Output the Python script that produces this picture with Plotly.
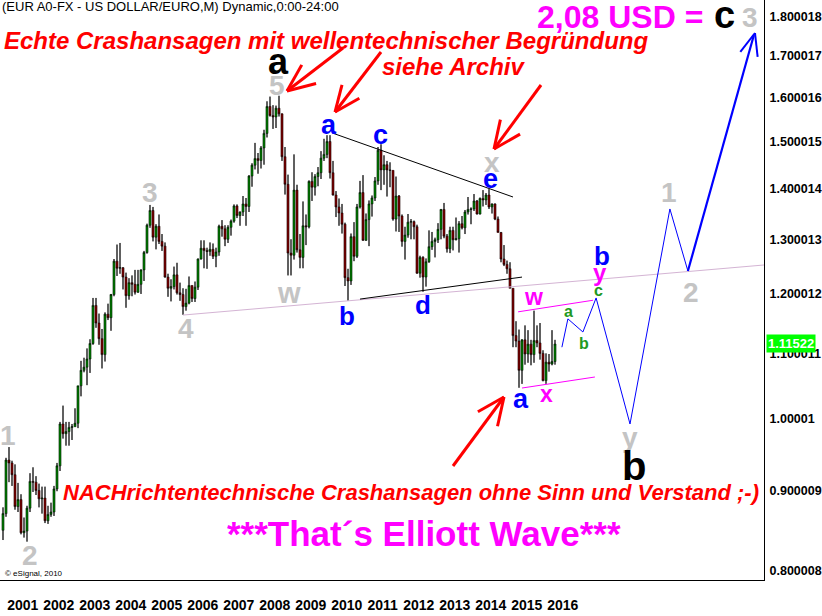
import math
import plotly.graph_objects as go

# ---------------- data (EUR/USD monthly) ----------------
months = ["2000-11", "2000-12",
          "2001-01", "2001-02", "2001-03", "2001-04", "2001-05", "2001-06", "2001-07", "2001-08", "2001-09", "2001-10", "2001-11", "2001-12",
          "2002-01", "2002-02", "2002-03", "2002-04", "2002-05", "2002-06", "2002-07", "2002-08", "2002-09", "2002-10", "2002-11", "2002-12",
          "2003-01", "2003-02", "2003-03", "2003-04", "2003-05", "2003-06", "2003-07", "2003-08", "2003-09", "2003-10", "2003-11", "2003-12",
          "2004-01", "2004-02", "2004-03", "2004-04", "2004-05", "2004-06", "2004-07", "2004-08", "2004-09", "2004-10", "2004-11", "2004-12",
          "2005-01", "2005-02", "2005-03", "2005-04", "2005-05", "2005-06", "2005-07", "2005-08", "2005-09", "2005-10", "2005-11", "2005-12",
          "2006-01", "2006-02", "2006-03", "2006-04", "2006-05", "2006-06", "2006-07", "2006-08", "2006-09", "2006-10", "2006-11", "2006-12",
          "2007-01", "2007-02", "2007-03", "2007-04", "2007-05", "2007-06", "2007-07", "2007-08", "2007-09", "2007-10", "2007-11", "2007-12",
          "2008-01", "2008-02", "2008-03", "2008-04", "2008-05", "2008-06", "2008-07", "2008-08", "2008-09", "2008-10", "2008-11", "2008-12",
          "2009-01", "2009-02", "2009-03", "2009-04", "2009-05", "2009-06", "2009-07", "2009-08", "2009-09", "2009-10", "2009-11", "2009-12",
          "2010-01", "2010-02", "2010-03", "2010-04", "2010-05", "2010-06", "2010-07", "2010-08", "2010-09", "2010-10", "2010-11", "2010-12",
          "2011-01", "2011-02", "2011-03", "2011-04", "2011-05", "2011-06", "2011-07", "2011-08", "2011-09", "2011-10", "2011-11", "2011-12",
          "2012-01", "2012-02", "2012-03", "2012-04", "2012-05", "2012-06", "2012-07", "2012-08", "2012-09", "2012-10", "2012-11", "2012-12",
          "2013-01", "2013-02", "2013-03", "2013-04", "2013-05", "2013-06", "2013-07", "2013-08", "2013-09", "2013-10", "2013-11", "2013-12",
          "2014-01", "2014-02", "2014-03", "2014-04", "2014-05", "2014-06", "2014-07", "2014-08", "2014-09", "2014-10", "2014-11", "2014-12",
          "2015-01", "2015-02", "2015-03", "2015-04", "2015-05", "2015-06", "2015-07", "2015-08", "2015-09", "2015-10", "2015-11", "2015-12",
          "2016-01", "2016-02", "2016-03"]

opens = [0.8490, 0.8700,
         0.9410, 0.9370, 0.9210, 0.8790, 0.8880, 0.8460, 0.8480, 0.8770, 0.9120, 0.9110, 0.9000, 0.8890,
         0.8900, 0.8610, 0.8690, 0.8720, 0.9020, 0.9330, 0.9920, 0.9780, 0.9810, 0.9870, 0.9880, 0.9930,
         1.0490, 1.0730, 1.0780, 1.0910, 1.1160, 1.1800, 1.1500, 1.1240, 1.0980, 1.1650, 1.1590, 1.1990,
         1.2590, 1.2460, 1.2470, 1.2300, 1.1970, 1.2200, 1.2170, 1.2030, 1.2170, 1.2430, 1.2750, 1.3270,
         1.3560, 1.3040, 1.3250, 1.2960, 1.2870, 1.2300, 1.2100, 1.2130, 1.2340, 1.2020, 1.1990, 1.1780,
         1.1840, 1.2150, 1.1920, 1.2120, 1.2630, 1.2830, 1.2790, 1.2770, 1.2810, 1.2680, 1.2760, 1.3250,
         1.3200, 1.3000, 1.3230, 1.3350, 1.3650, 1.3460, 1.3530, 1.3690, 1.3640, 1.4260, 1.4490, 1.4630,
         1.4590, 1.4860, 1.5180, 1.5790, 1.5580, 1.5550, 1.5750, 1.5620, 1.4670, 1.4090, 1.2740, 1.2700,
         1.3970, 1.2800, 1.2660, 1.3260, 1.3240, 1.4150, 1.4030, 1.4250, 1.4330, 1.4640, 1.4720, 1.5000,
         1.4330, 1.3870, 1.3630, 1.3510, 1.3290, 1.2290, 1.2230, 1.3050, 1.2680, 1.3630, 1.3920, 1.2980,
         1.3380, 1.3690, 1.3810, 1.4160, 1.4810, 1.4390, 1.4500, 1.4390, 1.4380, 1.3390, 1.3850, 1.3450,
         1.2960, 1.3080, 1.3330, 1.3340, 1.3240, 1.2370, 1.2660, 1.2300, 1.2580, 1.2860, 1.2960, 1.2990,
         1.3190, 1.3580, 1.3060, 1.2820, 1.3170, 1.2990, 1.3010, 1.3300, 1.3220, 1.3530, 1.3580, 1.3590,
         1.3750, 1.3490, 1.3800, 1.3770, 1.3870, 1.3630, 1.3690, 1.3390, 1.3130, 1.2630, 1.2530, 1.2450,
         1.2100, 1.1290, 1.1200, 1.0730, 1.1220, 1.0990, 1.1150, 1.0980, 1.1210, 1.1170, 1.1000, 1.0570,
         1.0860, 1.0830, 1.0870]

highs = [0.8780, 0.9440,
         0.9590, 0.9400, 0.9350, 0.9100, 0.8950, 0.8650, 0.8800, 0.9230, 0.9310, 0.9190, 0.9090, 0.9050,
         0.9050, 0.8800, 0.8840, 0.9060, 0.9370, 0.9950, 1.0190, 0.9950, 0.9950, 0.9920, 1.0150, 1.0490,
         1.0880, 1.0930, 1.1080, 1.1230, 1.1930, 1.1930, 1.1660, 1.1400, 1.1680, 1.1830, 1.2000, 1.2630,
         1.2900, 1.2930, 1.2480, 1.2380, 1.2280, 1.2330, 1.2430, 1.2430, 1.2440, 1.2780, 1.3300, 1.3670,
         1.3630, 1.3290, 1.3480, 1.3100, 1.2940, 1.2360, 1.2260, 1.2490, 1.2560, 1.2200, 1.2100, 1.2090,
         1.2310, 1.2150, 1.2220, 1.2640, 1.2980, 1.2980, 1.2840, 1.2940, 1.2920, 1.2840, 1.3280, 1.3370,
         1.3270, 1.3270, 1.3380, 1.3680, 1.3680, 1.3540, 1.3850, 1.3810, 1.4280, 1.4530, 1.4970, 1.4750,
         1.4900, 1.5260, 1.5910, 1.6020, 1.5820, 1.5810, 1.6040, 1.5630, 1.4880, 1.4290, 1.3000, 1.4720,
         1.4080, 1.3100, 1.3740, 1.3480, 1.4170, 1.4340, 1.4300, 1.4450, 1.4790, 1.5060, 1.5140, 1.5140,
         1.4580, 1.3950, 1.3800, 1.3690, 1.3320, 1.2450, 1.3110, 1.3330, 1.3690, 1.4160, 1.4280, 1.3500,
         1.3760, 1.3860, 1.4240, 1.4880, 1.4940, 1.4700, 1.4580, 1.4550, 1.4380, 1.4250, 1.3870, 1.3480,
         1.3240, 1.3490, 1.3390, 1.3360, 1.3280, 1.2690, 1.2680, 1.2640, 1.3170, 1.3140, 1.3030, 1.3310,
         1.3590, 1.3710, 1.3100, 1.3240, 1.3240, 1.3420, 1.3350, 1.3450, 1.3570, 1.3830, 1.3620, 1.3890,
         1.3770, 1.3820, 1.3970, 1.3910, 1.3990, 1.3700, 1.3700, 1.3440, 1.3140, 1.2890, 1.2600, 1.2570,
         1.2100, 1.1530, 1.1390, 1.1230, 1.1460, 1.1380, 1.1220, 1.1710, 1.1460, 1.1500, 1.1050, 1.1000,
         1.0990, 1.1380, 1.1220]

lows = [0.8370, 0.8660,
        0.9110, 0.9060, 0.8750, 0.8720, 0.8440, 0.8400, 0.8350, 0.8720, 0.8980, 0.8940, 0.8780, 0.8700,
        0.8580, 0.8570, 0.8660, 0.8670, 0.8990, 0.9260, 0.9710, 0.9610, 0.9610, 0.9690, 0.9880, 0.9860,
        1.0330, 1.0700, 1.0500, 1.0690, 1.1140, 1.1420, 1.1140, 1.0760, 1.0870, 1.1550, 1.1370, 1.1960,
        1.2320, 1.2360, 1.2080, 1.1760, 1.1900, 1.1960, 1.1990, 1.2020, 1.2000, 1.2230, 1.2730, 1.3220,
        1.2960, 1.2810, 1.2910, 1.2780, 1.2290, 1.1950, 1.1870, 1.2080, 1.1990, 1.1880, 1.1640, 1.1710,
        1.1820, 1.1860, 1.1860, 1.2070, 1.2620, 1.2460, 1.2450, 1.2690, 1.2630, 1.2480, 1.2690, 1.3050,
        1.2870, 1.2930, 1.3070, 1.3320, 1.3410, 1.3260, 1.3450, 1.3260, 1.3530, 1.4040, 1.4400, 1.4310,
        1.4420, 1.4500, 1.5090, 1.5560, 1.5280, 1.5300, 1.5560, 1.4580, 1.3880, 1.2330, 1.2330, 1.2620,
        1.2750, 1.2460, 1.2460, 1.2890, 1.3210, 1.3750, 1.3860, 1.4050, 1.4200, 1.4580, 1.4640, 1.4210,
        1.3860, 1.3430, 1.3260, 1.3110, 1.2140, 1.1880, 1.2160, 1.2590, 1.2650, 1.3600, 1.2970, 1.2970,
        1.2870, 1.3440, 1.3750, 1.4080, 1.3970, 1.4080, 1.3840, 1.4030, 1.3360, 1.3150, 1.3140, 1.2860,
        1.2620, 1.3030, 1.3000, 1.3000, 1.2360, 1.2290, 1.2040, 1.2130, 1.2560, 1.2800, 1.2660, 1.2930,
        1.3000, 1.3020, 1.2750, 1.2740, 1.2790, 1.2980, 1.2750, 1.3190, 1.3100, 1.3480, 1.3290, 1.3550,
        1.3480, 1.3480, 1.3640, 1.3670, 1.3590, 1.3500, 1.3370, 1.3130, 1.2570, 1.2500, 1.2360, 1.2100,
        1.1100, 1.1100, 1.0460, 1.0520, 1.0820, 1.0850, 1.0810, 1.0850, 1.1100, 1.0900, 1.0560, 1.0520,
        1.0710, 1.0810, 1.0820]

closes = [0.8700, 0.9410,
          0.9370, 0.9210, 0.8790, 0.8880, 0.8460, 0.8480, 0.8770, 0.9120, 0.9110, 0.9000, 0.8890, 0.8900,
          0.8610, 0.8690, 0.8720, 0.9020, 0.9330, 0.9920, 0.9780, 0.9810, 0.9870, 0.9880, 0.9930, 1.0490,
          1.0730, 1.0780, 1.0910, 1.1160, 1.1800, 1.1500, 1.1240, 1.0980, 1.1650, 1.1590, 1.1990, 1.2590,
          1.2460, 1.2470, 1.2300, 1.1970, 1.2200, 1.2170, 1.2030, 1.2170, 1.2430, 1.2750, 1.3270, 1.3560,
          1.3040, 1.3250, 1.2960, 1.2870, 1.2300, 1.2100, 1.2130, 1.2340, 1.2020, 1.1990, 1.1780, 1.1840,
          1.2150, 1.1920, 1.2120, 1.2630, 1.2830, 1.2790, 1.2770, 1.2810, 1.2680, 1.2760, 1.3250, 1.3200,
          1.3000, 1.3230, 1.3350, 1.3650, 1.3460, 1.3530, 1.3690, 1.3640, 1.4260, 1.4490, 1.4630, 1.4590,
          1.4860, 1.5180, 1.5790, 1.5580, 1.5550, 1.5750, 1.5620, 1.4670, 1.4090, 1.2740, 1.2700, 1.3970,
          1.2800, 1.2660, 1.3260, 1.3240, 1.4150, 1.4030, 1.4250, 1.4330, 1.4640, 1.4720, 1.5000, 1.4330,
          1.3870, 1.3630, 1.3510, 1.3290, 1.2290, 1.2230, 1.3050, 1.2680, 1.3630, 1.3920, 1.2980, 1.3380,
          1.3690, 1.3810, 1.4160, 1.4810, 1.4390, 1.4500, 1.4390, 1.4380, 1.3390, 1.3850, 1.3450, 1.2960,
          1.3080, 1.3330, 1.3340, 1.3240, 1.2370, 1.2660, 1.2300, 1.2580, 1.2860, 1.2960, 1.2990, 1.3190,
          1.3580, 1.3060, 1.2820, 1.3170, 1.2990, 1.3010, 1.3300, 1.3220, 1.3530, 1.3580, 1.3590, 1.3750,
          1.3490, 1.3800, 1.3770, 1.3870, 1.3630, 1.3690, 1.3390, 1.3130, 1.2630, 1.2530, 1.2450, 1.2100,
          1.1290, 1.1200, 1.0730, 1.1220, 1.0990, 1.1150, 1.0980, 1.1210, 1.1170, 1.1000, 1.0570, 1.0860,
          1.0830, 1.0870, 1.1152]

last_price = 1.11522

# y-axis tick values / labels
y_ticks = [0.800008, 0.900009, 1.00001, 1.100011, 1.200012, 1.300013,
           1.400014, 1.500015, 1.600016, 1.700017, 1.800018]
y_ticklabels = ["0.800008", "0.900009", "1.00001", "1.100011", "1.200012", "1.300013",
                "1.400014", "1.500015", "1.600016", "1.700017", "1.800018"]
years = list(range(2001, 2017))

# Elliott-wave projection path (month index since Jan 2001, price)
proj_months = [184.3, 186.3, 191.3, 195.7, 207.0, 220.3, 226.3]
proj_prices = [1.110, 1.157, 1.135, 1.193, 0.992, 1.359, 1.241]
final_months = [226.3, 248.3]
final_prices = [1.241, 1.753]

# trend / channel lines (month index, price)
tri_upper_m, tri_upper_p = [107.7, 168.0], [1.519, 1.383]
tri_lower_m, tri_lower_p = [117.0, 171.0], [1.191, 1.230]
base_m, base_p = [58.0, 251.7], [1.1635, 1.252]
chan_up_m, chan_up_p = [169.7, 194.7], [1.169, 1.189]
chan_lo_m, chan_lo_p = [171.0, 195.3], [1.0456, 1.0626]

# ---------------- geometry ----------------
W, H = 822, 616
PW, PH = 764, 580            # plot area (pixels)
X_LO, X_HI = -3.0, 251.667   # month index range
Y_LO, Y_HI = 0.78941, 1.84536


def m_index(s):
    y, m = s.split("-")
    return (int(y) - 2001) * 12 + int(m) - 1


xs = [m_index(s) for s in months]


def px(x):
    return x / PW


def py(y):
    return 1 - y / PH


FONT = "Liberation Sans, Arial, sans-serif"

fig = go.Figure()

# wicks (crisp black)
fig.add_trace(go.Ohlc(
    x=xs, open=opens, high=highs, low=lows, close=closes, tickwidth=0,
    increasing=dict(line=dict(color="black", width=1)),
    decreasing=dict(line=dict(color="black", width=1)),
    showlegend=False, hoverinfo="skip"))

# bodies
fig.add_trace(go.Candlestick(
    x=xs, open=opens, high=highs, low=lows, close=closes,
    increasing=dict(fillcolor="#00ff00", line=dict(color="black", width=0.5)),
    decreasing=dict(fillcolor="#ff0000", line=dict(color="black", width=0.5)),
    whiskerwidth=0, showlegend=False, hoverinfo="skip"))


def line(xm, yp, color, width):
    fig.add_trace(go.Scatter(x=xm, y=yp, mode="lines", line=dict(color=color, width=width),
                             showlegend=False, hoverinfo="skip"))


line(base_m, base_p, "#d4b4d4", 1)
line(tri_upper_m, tri_upper_p, "black", 1)
line(tri_lower_m, tri_lower_p, "black", 1)
line(chan_up_m, chan_up_p, "#ff00ff", 1)
line(chan_lo_m, chan_lo_p, "#ff00ff", 1)
line(proj_months, proj_prices, "#0000ff", 1)
line(final_months, final_prices, "#0000ff", 2.2)

shapes = []


def arrow(tail, tip, color, width, length, spread, shaft=True):
    tx, ty = tail
    hx, hy = tip
    ang = math.atan2(ty - hy, tx - hx)
    if shaft:
        shapes.append(dict(type="line", xref="paper", yref="paper",
                           x0=px(tx), y0=py(ty), x1=px(hx), y1=py(hy),
                           line=dict(color=color, width=width)))
    for s in (-spread, spread):
        a = ang + math.radians(s)
        bx, by = hx + length * math.cos(a), hy + length * math.sin(a)
        shapes.append(dict(type="line", xref="paper", yref="paper",
                           x0=px(bx), y0=py(by), x1=px(hx), y1=py(hy),
                           line=dict(color=color, width=width)))


RED = "#ff0000"
arrow((343, 48), (287, 91), RED, 3, 30, 23)
arrow((381, 52), (335, 112), RED, 3, 28, 23)
arrow((541, 85), (494, 149), RED, 3, 30, 24)
arrow((453, 466), (504, 397), RED, 3, 30, 24)
# blue arrow head at projected wave 3
arrow((688, 271), (755, 33), "#0000ff", 2, 24, 22, shaft=False)

annotations = []


def label(x, y, text, color, size, bold=True, italic=False, xanchor="center"):
    t = text
    if bold:
        t = "<b>" + t + "</b>"
    if italic:
        t = "<i>" + t + "</i>"
    annotations.append(dict(x=px(x), y=py(y), xref="paper", yref="paper", text=t,
                            showarrow=False, xanchor=xanchor, yanchor="middle",
                            font=dict(family=FONT, size=size, color=color)))


GRAY = "#c4c4c4"
BLUE = "#0000ff"
MAG = "#ff00ff"
GRN = "#229922"

label(0, 6, "(EUR A0-FX - US DOLLAR/EURO,M) Dynamic,0:00-24:00", "black", 13, bold=False, xanchor="left")
label(2, 40, "Echte Crashansagen mit wellentechnischer Begründung", RED, 24, italic=True, xanchor="left")
label(380, 67, "siehe Archiv", RED, 24, italic=True, xanchor="left")
label(535, 17, "2,08 USD =", MAG, 32, xanchor="left")
label(724, 15, "c", "black", 38)
label(750, 17, "3", GRAY, 28)
label(278, 61, "a", "black", 36)
label(277, 85, "5", GRAY, 28)
label(150, 192, "3", GRAY, 28)
label(186, 328, "4", GRAY, 28)
label(289, 293, "w", GRAY, 29)
label(8, 436, "1", GRAY, 28)
label(30, 555, "2", GRAY, 28)
label(329, 125, "a", BLUE, 27)
label(380, 135, "c", BLUE, 27)
label(347, 316, "b", BLUE, 26)
label(423, 305, "d", BLUE, 26)
label(490, 179, "e", BLUE, 27)
label(492, 162, "x", GRAY, 28)
label(521, 399, "a", BLUE, 27)
label(546, 394, "x", MAG, 23)
label(533, 297, "w", MAG, 23)
label(568, 311, "a", GRN, 16)
label(584, 343, "b", GRN, 16)
label(598, 291, "c", GRN, 16)
label(600, 272, "y", MAG, 24)
label(602, 256, "b", BLUE, 26)
label(630, 437, "y", GRAY, 28)
label(634, 466, "b", "black", 40)
label(669, 193, "1", GRAY, 28)
label(691, 292, "2", GRAY, 28)
label(61, 492, "NACHrichtentechnische Crashansagen ohne Sinn und Verstand ;-)", RED, 22, italic=True, xanchor="left")
label(424, 533, "***That´s Elliott Wave***", MAG, 35)
label(3, 573, "© eSignal, 2010", "black", 8, bold=False, xanchor="left")

# last price box on the right axis
annotations.append(dict(x=1, y=math.log10(last_price), xref="paper", yref="y",
                        text="<b>%.5f</b>" % last_price, showarrow=False,
                        xanchor="left", yanchor="middle", xshift=2,
                        bgcolor="#00ff00", borderpad=1,
                        font=dict(family=FONT, size=13, color="white")))

fig.update_layout(
    width=W, height=H,
    margin=dict(l=0, r=W - PW, t=0, b=H - PH),
    paper_bgcolor="white", plot_bgcolor="white",
    showlegend=False, boxgap=0.0,
    shapes=shapes, annotations=annotations,
    xaxis=dict(range=[X_LO, X_HI], showgrid=False, zeroline=False,
               showline=True, linecolor="black", linewidth=1,
               rangeslider=dict(visible=False),
               tickmode="array", tickvals=[12 * i + 4.57 for i in range(len(years))],
               ticktext=["<b>%d</b>" % y for y in years], tickangle=0,
               ticks="outside", ticklen=12, tickcolor="rgba(0,0,0,0)",
               tickfont=dict(family=FONT, size=14, color="black")),
    yaxis=dict(type="log", range=[math.log10(Y_LO), math.log10(Y_HI)], side="right",
               showgrid=False, zeroline=False, showline=True, linecolor="black", linewidth=1,
               tickmode="array", tickvals=y_ticks,
               ticktext=["<b>%s</b>" % t for t in y_ticklabels],
               ticks="outside", ticklen=2, tickcolor="rgba(0,0,0,0)",
               tickfont=dict(family=FONT, size=12.5, color="black")),
)

fig.write_html("out.html", config={"displayModeBar": False},
               post_script="document.body.style.margin='0';")
